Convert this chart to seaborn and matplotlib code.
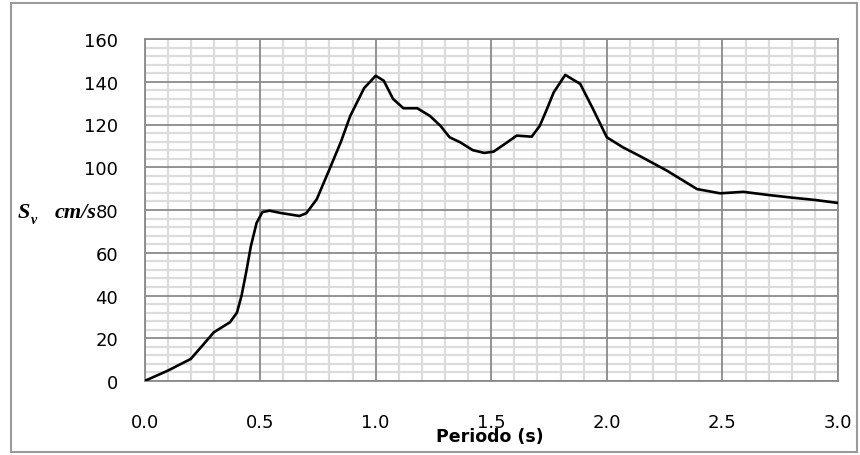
import matplotlib
matplotlib.use("Agg")
import matplotlib.pyplot as plt
import seaborn as sns
import pandas as pd
from matplotlib.ticker import MultipleLocator
from matplotlib.patches import Rectangle

# Data
periodo = [0, 0.1, 0.2, 0.25, 0.3, 0.37, 0.4, 0.42, 0.44, 0.46, 0.485, 0.51, 0.54,
           0.59, 0.67, 0.7, 0.745, 0.8, 0.85, 0.89, 0.95, 1.0, 1.035, 1.075, 1.12,
           1.18, 1.235, 1.28, 1.32, 1.365, 1.42, 1.47, 1.51, 1.56, 1.61, 1.675, 1.71,
           1.74, 1.77, 1.82, 1.885, 1.94, 2.0, 2.07, 2.14, 2.26, 2.39, 2.49, 2.59,
           2.7, 2.8, 2.9, 3.0]
sv = [0, 4.8, 10.3, 16.5, 22.8, 27.5, 32, 40, 51, 63, 74, 79, 79.7,
      78.6, 77.2, 78.5, 85, 99, 112, 124, 137, 142.8, 140.5, 132, 127.6,
      127.6, 124, 119.4, 114, 111.7, 108, 106.7, 107.3, 111, 114.8, 114.3, 119.4,
      127, 135, 143.2, 139, 127.3, 114, 109.3, 105.4, 98.4, 89.8, 87.8, 88.5,
      87, 85.8, 84.7, 83.3]
x_ticks = [0.0, 0.5, 1.0, 1.5, 2.0, 2.5, 3.0]
x_tick_labels = ["0.0", "0.5", "1.0", "1.5", "2.0", "2.5", "3.0"]
y_ticks = [0, 20, 40, 60, 80, 100, 120, 140, 160]

df = pd.DataFrame({"Periodo": periodo, "Sv": sv})

sns.set_style("white")
plt.rcParams["font.family"] = ["DejaVu Sans"]

fig = plt.figure(figsize=(8.6, 4.56), dpi=100)
ax = fig.add_axes([144.5 / 860, 1 - 382 / 456, (838 - 144.5) / 860, (382 - 40) / 456])

sns.lineplot(data=df, x="Periodo", y="Sv", ax=ax, color="black", linewidth=1.9,
             solid_joinstyle="round", solid_capstyle="round", zorder=5)

ax.set_xlim(0, 3.0)
ax.set_ylim(0, 160)
ax.set_xticks(x_ticks)
ax.set_xticklabels(x_tick_labels)
ax.set_yticks(y_ticks)
ax.xaxis.set_minor_locator(MultipleLocator(0.1))
ax.yaxis.set_minor_locator(MultipleLocator(4))

# light minor grid from the axis, major grid lines on top of it
ax.set_axisbelow(True)
ax.grid(which="minor", color="#dcdcdc", linewidth=1.6)
ax.grid(which="major", visible=False)
for xv in x_ticks:
    ax.axvline(xv, color="#8a8a8a", linewidth=1.3, zorder=2)
for yv in y_ticks:
    ax.axhline(yv, color="#8a8a8a", linewidth=1.3, zorder=2)

for s in ax.spines.values():
    s.set_color("#8a8a8a")
    s.set_linewidth(1.3)

ax.tick_params(axis="both", which="major", direction="out", length=6, width=1.2,
               color="#8a8a8a", labelsize=13, labelcolor="black")
ax.tick_params(axis="y", which="major", pad=13)
ax.tick_params(axis="x", which="major", pad=17)
ax.tick_params(which="minor", length=0)

ax.set_xlabel("")
ax.set_ylabel("")

# x label
fig.text(490 / 860, 1 - 437 / 456, "Periodo (s)", ha="center", va="center",
         fontsize=12.5, fontweight="bold", color="black", family=["DejaVu Sans"])

# y label: S_v cm/s (serif, bold italic)
yb = 1 - 218 / 456
fig.text(18 / 860, yb, "S", ha="left", va="baseline", fontsize=16, color="black",
         family=["Liberation Serif"], style="italic", fontweight="bold")
fig.text(31 / 860, 1 - 224 / 456, "v", ha="left", va="baseline", fontsize=10,
         color="black", family=["Liberation Serif"], style="italic", fontweight="bold")
fig.text(55 / 860, yb, "cm/s", ha="left", va="baseline", fontsize=16, color="black",
         family=["Liberation Serif"], style="italic", fontweight="bold")

# outer frame
fig.patches.append(Rectangle((11 / 860, 3 / 456), (857 - 11) / 860, (452 - 3) / 456,
                             transform=fig.transFigure, fill=False,
                             edgecolor="#9a9a9a", linewidth=1.5))

fig.savefig("out.png", dpi=100)
